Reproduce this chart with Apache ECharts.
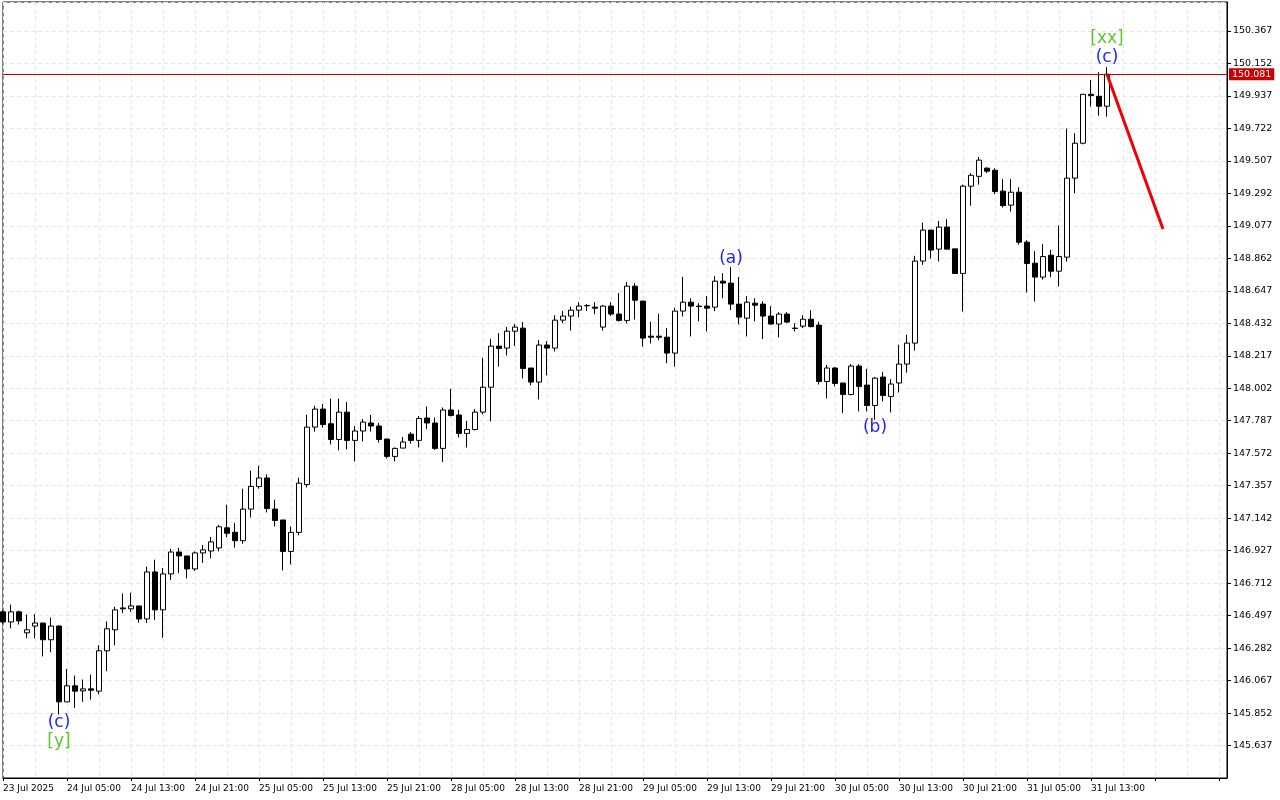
<!DOCTYPE html>
<html>
<head>
<meta charset="utf-8">
<script src="https://cdn.jsdelivr.net/npm/echarts@6/dist/echarts.min.js"></script>
<style>html,body{margin:0;padding:0;background:#fff}#box{width:1280px;height:800px}</style>
</head>
<body>
<div id="box"></div>
<script>
var tickLabels = ['23 Jul 2025','24 Jul 05:00','24 Jul 13:00','24 Jul 21:00','25 Jul 05:00','25 Jul 13:00','25 Jul 21:00',
    '28 Jul 05:00','28 Jul 13:00','28 Jul 21:00','29 Jul 05:00','29 Jul 13:00','29 Jul 21:00','30 Jul 05:00',
    '30 Jul 13:00','30 Jul 21:00','31 Jul 05:00','31 Jul 13:00'];
var slotCount = 154;

var opens = [
146.522,146.455,146.522,146.383,146.428,146.448,146.337,146.428,145.926,146.032,
145.999,146.012,145.997,146.264,146.403,146.548,146.542,146.561,146.475,146.786,
146.535,146.773,146.918,146.892,146.806,146.912,146.925,146.945,147.078,147.049,
146.993,147.202,147.352,147.408,147.202,147.130,146.922,147.048,147.365,147.745,
147.864,147.767,147.663,147.844,147.657,147.719,147.772,147.752,147.666,147.551,
147.606,147.698,147.657,147.805,147.772,147.604,147.858,147.825,147.703,147.729,
147.844,148.009,148.281,148.268,148.380,148.400,148.136,148.043,148.288,148.268,
148.453,148.480,148.519,148.550,148.539,148.407,148.546,148.493,148.451,148.678,
148.579,148.347,148.347,148.340,148.235,148.513,148.572,148.546,148.546,148.539,
148.711,148.698,148.559,148.466,148.565,148.559,148.480,148.427,148.493,148.400,
148.413,148.459,148.420,148.047,148.136,148.037,147.961,148.149,148.023,147.888,
148.076,147.948,148.037,148.162,148.301,148.844,149.049,148.923,149.069,148.925,
148.762,149.340,149.405,149.459,149.445,149.307,149.214,149.300,148.969,148.830,
148.738,148.883,148.777,148.870,149.393,149.624,149.948,149.935,149.869];
var closes = [
146.455,146.522,146.462,146.403,146.448,146.337,146.428,145.926,146.032,145.997,
146.012,146.003,146.264,146.410,146.535,146.542,146.561,146.475,146.786,146.535,
146.773,146.918,146.892,146.806,146.912,146.932,146.985,147.085,147.042,146.993,
147.202,147.352,147.408,147.206,147.127,146.922,147.048,147.374,147.745,147.864,
147.762,147.663,147.844,147.657,147.719,147.778,147.752,147.663,147.551,147.604,
147.646,147.657,147.802,147.772,147.604,147.858,147.822,147.703,147.729,147.844,
148.009,148.281,148.265,148.380,148.407,148.133,148.043,148.288,148.268,148.453,
148.480,148.519,148.546,148.548,148.532,148.546,148.493,148.451,148.678,148.585,
148.334,148.340,148.340,148.235,148.513,148.572,148.546,148.543,148.532,148.711,
148.698,148.559,148.473,148.572,148.552,148.480,148.427,148.493,148.440,148.398,
148.459,148.410,148.047,148.136,148.034,147.961,148.149,148.014,147.888,148.069,
147.954,148.030,148.162,148.301,148.844,149.049,148.917,149.069,148.923,148.762,
149.340,149.412,149.512,149.439,149.304,149.211,149.300,148.969,148.828,148.738,
148.874,148.777,148.874,149.393,149.624,149.948,149.939,149.869,150.081];
var lows = [
146.444,146.413,146.438,146.347,146.347,146.227,146.254,145.842,145.926,145.886,
145.926,145.941,145.975,146.129,146.301,146.513,146.522,146.449,146.448,146.469,
146.350,146.733,146.779,146.744,146.793,146.846,146.876,146.922,147.016,146.947,
146.973,147.147,147.337,147.180,147.087,146.796,146.836,147.028,147.345,147.715,
147.742,147.630,147.590,147.597,147.517,147.650,147.715,147.643,147.537,147.517,
147.606,147.636,147.610,147.732,147.594,147.514,147.815,147.677,147.610,147.723,
147.829,147.783,148.146,148.219,148.283,148.067,148.021,147.928,148.087,148.245,
148.433,148.384,148.473,148.513,148.492,148.384,148.480,148.444,148.431,148.457,
148.278,148.298,148.320,148.168,148.146,148.477,148.345,148.444,148.378,148.513,
148.598,148.519,148.424,148.345,148.444,148.328,148.424,148.338,148.433,148.378,
148.400,148.406,148.027,147.935,148.014,147.838,147.955,147.849,147.849,147.794,
147.915,147.842,147.974,148.106,148.252,148.819,148.861,148.841,148.923,148.762,
148.510,149.211,149.350,149.426,149.287,149.198,149.172,148.953,148.636,148.576,
148.722,148.738,148.676,148.841,149.293,149.617,149.866,149.806,149.800];
var highs = [
146.532,146.570,146.530,146.504,146.508,146.448,146.484,146.432,146.144,146.100,
146.074,146.107,146.301,146.458,146.555,146.643,146.649,146.561,146.821,146.867,
146.812,146.938,146.945,146.892,146.922,146.965,147.018,147.098,147.231,147.110,
147.337,147.456,147.489,147.432,147.264,147.130,147.087,147.410,147.826,147.886,
147.898,147.933,147.933,147.911,147.752,147.798,147.825,147.772,147.666,147.610,
147.679,147.712,147.818,147.882,147.809,147.875,147.999,147.860,147.785,147.864,
148.204,148.328,148.367,148.407,148.427,148.440,148.136,148.321,148.314,148.486,
148.513,148.543,148.572,148.559,148.572,148.552,148.572,148.632,148.705,148.698,
148.579,148.442,148.495,148.400,148.535,148.740,148.598,148.565,148.612,148.744,
148.764,148.804,148.738,148.612,148.598,148.579,148.546,148.506,148.506,148.433,
148.486,148.519,148.442,148.156,148.142,148.037,148.162,148.162,148.131,148.076,
148.111,148.063,148.290,148.356,148.879,149.098,149.049,149.110,149.121,148.925,
149.350,149.425,149.533,149.465,149.459,149.386,149.386,149.333,148.982,148.910,
148.956,148.918,149.081,149.721,149.690,149.948,150.043,150.094,150.127];

var lastPrice = 150.081;
var forecast = [[138, 150.081], [145, 149.056]];
var waveBlue = [[7, 145.789, '(c)'], [91, 148.859, '(a)'], [109, 147.741, '(b)'], [138, 150.188, '(c)']];
var waveGreen = [[7, 145.664, '[y]'], [138, 150.314, '[xx]']];

var cats = [];
for (var i = 0; i < slotCount; i++) cats.push(i);
var candles = [];
for (var i = 0; i < opens.length; i++) candles.push([opens[i], closes[i], lows[i], highs[i]]);

function labelSeries(pts, color){
    return {
        type: 'scatter', symbolSize: 0, silent: true,
        itemStyle: {opacity: 1},
        data: pts.map(function(p){ return {value: [p[0], p[1]], name: p[2]}; }),
        label: {show: true, position: 'inside', formatter: '{b}', color: color, fontSize: 17, fontFamily: 'DejaVu Sans'}
    };
}

var myChart = echarts.init(document.getElementById('box'));
var option = {
    animation: false,
    grid: {left: 3, right: 53, top: 2, bottom: 22, show: true, borderColor: '#000', borderWidth: 1},
    xAxis: {
        type: 'category', data: cats, boundaryGap: false,
        axisLine: {lineStyle: {color: '#000'}},
        axisTick: {show: true, interval: 7, length: 3, lineStyle: {color: '#000'}},
        axisLabel: {interval: 7, align: 'left', fontSize: 9, color: '#000', margin: 6, fontFamily: 'DejaVu Sans',
            formatter: function(v, i){ return tickLabels[Math.round(i / 8)] || ''; }},
        splitLine: {show: true, interval: 3, lineStyle: {color: '#e6e6e6', type: [4, 3]}}
    },
    yAxis: {
        type: 'value', position: 'right', scale: true,
        min: 145.422, max: 150.559, interval: 0.215,
        axisLine: {show: true, lineStyle: {color: '#000', width: 1}},
        axisTick: {show: true, length: 4, lineStyle: {color: '#000'}},
        axisLabel: {fontSize: 9.5, color: '#000', margin: 6, showMinLabel: false, showMaxLabel: false, fontFamily: 'DejaVu Sans',
            formatter: function(v){ return v.toFixed(3); }},
        splitLine: {show: true, lineStyle: {color: '#e6e6e6', type: [4, 3]}}
    },
    series: [
        {
            type: 'candlestick', data: candles, barWidth: 5,
            itemStyle: {color: '#fff', color0: '#000', borderColor: '#000', borderColor0: '#000', borderWidth: 1},
            markLine: {
                symbol: 'none', silent: true,
                lineStyle: {color: '#d40000', width: 1, type: 'solid'},
                label: {position: 'end', distance: 2, formatter: lastPrice.toFixed(3), color: '#fff',
                    backgroundColor: '#c80000', padding: [1, 3], fontSize: 9.5, fontFamily: 'DejaVu Sans'},
                data: [{yAxis: lastPrice}]
            }
        },
        {
            type: 'line', data: forecast, symbol: 'none', silent: true,
            lineStyle: {color: '#f00000', width: 3}
        },
        labelSeries(waveBlue, '#1f1fff'),
        labelSeries(waveGreen, '#5cc82a')
    ]
};
myChart.setOption(option);
</script>
</body>
</html>
